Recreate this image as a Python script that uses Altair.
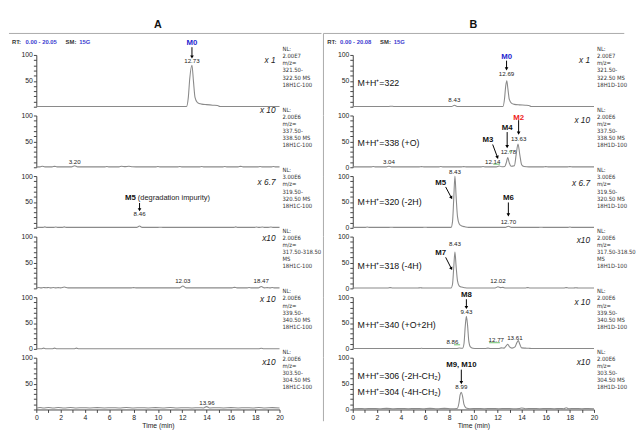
import math
import altair as alt
import pandas as pd

# ---------------- data ----------------
# traces: (time in min, relative abundance %)
A1_trace = [(0, 0.5), (3.0, 0.5), (8.0, 0.5), (12.35, 0.5), (12.5, 18), (12.62, 55), (12.8, 80), (12.92, 50),
            (13.05, 18), (13.25, 8), (13.6, 5), (14.0, 4), (14.5, 3), (14.9, 2.5), (15.1, 0.5), (20, 0.5)]
A2_trace = [(0, 0.8), (0.3, 0.8), (0.5, 2), (0.7, 0.8), (1.3, 0.8), (1.5, 1.8), (1.7, 0.8), (2.9, 0.8), (3.15, 3),
            (3.4, 0.8), (5.6, 0.8), (5.8, 1.5), (6.0, 0.8), (6.8, 0.8), (7.0, 2), (7.3, 1.2), (7.6, 2), (7.9, 1),
            (8.2, 0.8), (9.8, 0.8), (10.0, 1.5), (10.2, 0.8), (11.6, 0.8), (11.8, 1.5), (12.0, 0.8), (13.4, 0.8),
            (13.6, 1.5), (13.8, 0.8), (15.3, 0.8), (15.5, 1.5), (15.7, 0.8), (16.6, 0.8), (16.8, 1.8), (17.0, 0.8),
            (18.2, 0.8), (18.4, 1.5), (18.6, 0.8), (19.3, 0.8), (19.5, 1.5), (19.7, 0.8), (20, 0.8)]
A3_trace = [(0, 0.8), (0.5, 0.8), (0.7, 1.8), (0.9, 0.8), (1.4, 0.8), (1.6, 1.5), (1.8, 0.8), (2.1, 0.8), (2.3, 1.8),
            (2.5, 0.8), (8.25, 0.8), (8.49, 3.5), (8.7, 0.8), (10.0, 0.8), (10.2, 1.2), (10.4, 0.8), (16.2, 0.8),
            (16.4, 1.8), (16.6, 0.8), (17.9, 0.8), (18.1, 1.5), (18.3, 0.8), (18.6, 1.5), (18.8, 0.8), (19.0, 0.8),
            (19.3, 1.5), (19.5, 0.8), (20, 0.8)]
A4_trace = [(0, 1), (0.2, 1.8), (0.4, 1.0), (0.6, 1.8), (0.8, 1.2), (1.0, 1.8), (1.2, 1.0), (1.4, 1.6), (1.6, 1.0),
            (1.8, 1.5), (2.0, 1.0), (2.3, 2.5), (2.6, 1.0), (7.8, 1.0), (8.0, 1.5), (8.2, 1.0), (11.8, 1.0),
            (12.05, 4.5), (12.3, 1.0), (16.1, 1.0), (16.3, 2), (16.5, 1.0), (17.3, 1.0), (17.5, 1.8), (17.7, 1.0),
            (18.25, 1.0), (18.5, 3.5), (18.75, 1.0), (19.0, 1.5), (19.2, 1.0), (19.4, 1.8), (19.6, 1.0), (20, 1.0)]
A5_trace = [(0, 0.5), (0.4, 0.5), (0.6, 1.5), (0.8, 0.5), (1.3, 0.5), (1.5, 1.5), (1.7, 0.5), (3.1, 0.5), (3.3, 1.5),
            (3.5, 0.5), (18.3, 0.5), (18.5, 1.2), (18.7, 0.5), (20, 0.5)]
A6_trace = [(0, 3), (0.3, 4), (0.6, 3), (1.0, 4), (1.4, 3), (1.8, 3.8), (2.3, 3), (2.8, 3.8), (3.3, 3), (3.8, 3.5),
            (4.4, 3), (5.0, 3.6), (5.6, 3), (6.2, 3.5), (6.8, 3), (7.4, 3.8), (8.0, 3), (8.6, 3.5), (9.2, 3),
            (9.8, 3.6), (10.4, 3), (11.0, 3.8), (11.6, 3), (12.2, 3.5), (12.8, 3), (13.4, 3.5), (13.75, 3),
            (14.0, 5.5), (14.25, 3), (14.8, 3.5), (15.4, 3), (16.0, 3.6), (16.6, 3), (17.2, 3.5), (17.8, 3),
            (18.3, 4), (18.8, 3), (19.4, 3.6), (20, 3)]

B1_trace = [(0, 0.5), (3.0, 0.5), (3.2, 1), (3.4, 0.5), (8.2, 0.5), (8.42, 3), (8.65, 0.5), (12.45, 0.5),
            (12.58, 15), (12.68, 40), (12.77, 50), (12.86, 35), (12.98, 14), (13.15, 7), (13.4, 4.5), (13.8, 3.5),
            (14.3, 3), (14.6, 2.5), (14.8, 0.5), (20, 0.5)]
B2_trace = [(0, 0.8), (1.5, 0.8), (1.7, 1.5), (1.9, 0.8), (2.8, 0.8), (3.0, 2), (3.2, 0.8), (5.5, 0.8), (5.7, 1.2),
            (5.9, 0.8), (7.1, 0.8), (7.3, 1.5), (7.5, 0.8), (9.0, 0.8), (9.2, 1.2), (9.4, 0.8), (10.6, 0.8),
            (10.8, 1.5), (11.0, 0.8), (11.9, 0.8), (12.14, 2.5), (12.35, 1), (12.6, 1.5), (12.73, 9), (12.85, 19),
            (12.97, 9), (13.12, 2), (13.4, 3), (13.55, 25), (13.7, 45), (13.85, 24), (14.0, 5), (14.2, 1.5),
            (14.6, 0.8), (15.8, 0.8), (16.0, 1.2), (16.2, 0.8), (17.8, 0.8), (18.0, 1.2), (18.2, 0.8), (20, 0.8)]
B3_trace = [(0, 0.8), (1.0, 0.8), (1.2, 1.5), (1.4, 0.8), (3.0, 0.8), (3.2, 1.2), (3.4, 0.8), (5.8, 0.8), (6.0, 1.2),
            (6.2, 0.8), (8.15, 0.8), (8.27, 12), (8.37, 55), (8.47, 100), (8.57, 60), (8.68, 22), (8.82, 8),
            (9.0, 4), (9.3, 2), (9.6, 0.8), (12.65, 0.8), (12.9, 3), (13.15, 0.8), (15.4, 0.8), (15.6, 1.2),
            (15.8, 0.8), (17.8, 0.8), (18.0, 1.5), (18.2, 0.8), (20, 0.8)]
B4_trace = [(0, 0.8), (2.9, 0.8), (3.1, 1.5), (3.3, 0.8), (5.4, 0.8), (5.6, 1.2), (5.8, 0.8), (8.15, 0.8), (8.27, 8),
            (8.37, 40), (8.47, 70), (8.57, 42), (8.68, 15), (8.82, 5), (9.0, 2.5), (9.3, 1.2), (9.6, 0.8),
            (11.8, 0.8), (12.04, 3), (12.25, 1.5), (12.45, 2), (12.65, 0.8), (14.3, 0.8), (14.5, 1.5), (14.7, 0.8),
            (17.5, 0.8), (17.7, 1.5), (17.9, 0.8), (18.3, 0.8), (18.5, 1.2), (18.7, 0.8), (20, 0.8)]
B5_trace = [(0, 0.8), (5.5, 0.8), (5.7, 1.2), (5.9, 0.8), (8.6, 0.8), (8.86, 1.8), (9.1, 1.2), (9.22, 10),
            (9.33, 45), (9.42, 63), (9.52, 45), (9.62, 15), (9.75, 4), (9.95, 1.5), (10.3, 0.8), (11.0, 0.8),
            (11.2, 1.5), (11.4, 0.8), (12.1, 0.8), (12.3, 2), (12.55, 1.5), (12.72, 6), (12.85, 9), (13.0, 4),
            (13.2, 1.5), (13.45, 4), (13.6, 12), (13.72, 16), (13.85, 9), (14.0, 2), (14.3, 1.5), (14.6, 1.2),
            (14.8, 0.8), (20, 0.8)]
B6_trace = [(0, 1.5), (0.5, 2), (1.0, 1.5), (1.6, 2), (2.2, 1.5), (2.8, 2.2), (3.4, 1.5), (4.0, 2), (4.6, 1.5),
            (5.2, 2), (5.8, 1.5), (6.4, 2.2), (7.0, 1.5), (7.6, 2.2), (8.2, 1.5), (8.65, 2), (8.8, 12), (8.9, 28),
            (9.0, 33), (9.1, 26), (9.22, 10), (9.4, 3), (9.7, 1.5), (10.3, 2), (10.9, 1.5), (11.5, 2), (12.1, 1.5),
            (12.7, 2), (13.3, 1.5), (13.8, 2), (14.0, 3), (14.3, 1.5), (14.9, 2), (15.5, 1.5), (16.1, 2),
            (16.7, 1.5), (17.2, 1.8), (17.5, 1.5), (17.7, 3.5), (17.9, 1.5), (18.4, 2), (19.0, 1.5), (19.5, 2),
            (20, 1.5)]

# peak retention-time labels: (t, y, text)
A_nums = [[(12.8, 89, "12.73")], [(3.15, 11, "3.20")], [(8.49, 26, "8.46")],
          [(12.05, 15, "12.03"), (18.5, 15, "18.47")], [], [(14.03, 13, "13.96")]]
B_nums = [[(8.42, 13, "8.43"), (12.75, 64, "12.69")],
          [(3.0, 11, "3.04"), (11.6, 11, "12.14"), (12.9, 29, "12.78"), (13.75, 55, "13.63")],
          [(8.47, 108, "8.43"), (12.9, 11, "12.70")],
          [(8.47, 85, "8.43"), (12.04, 15, "12.02")],
          [(9.42, 72, "9.43"), (8.26, 13, "8.86"), (11.9, 17, "12.77"), (13.44, 21, "13.61")],
          [(9.0, 43, "8.99")]]
# metabolite labels: (t, y, text, colour, align)
A_mets = [[(12.8, 123, "M0", "#1f1fd0", "center")], [], [(7.3, 57, "M5", "#111111", "left")], [], [], []]
B_mets = [[(12.75, 96, "M0", "#1f1fd0", "center")],
          [(11.2, 53, "M3", "#111111", "center"), (12.8, 75, "M4", "#111111", "center"),
           (13.75, 96, "M2", "#ee2222", "center")],
          [(7.29, 87, "M5", "#111111", "center"), (12.9, 57, "M6", "#111111", "center")],
          [(7.29, 68, "M7", "#111111", "center")],
          [(9.42, 104, "M8", "#111111", "center")],
          [(9.0, 85, "M9, M10", "#111111", "center")]]
# arrows: (t start, y start, t end, y end)
A_arrows = [[(12.8, 115, 12.8, 96)], [], [(8.49, 48, 8.49, 35)], [], [], []]
B_arrows = [[(12.75, 89, 12.75, 73)],
            [(11.6, 44, 12.0, 19), (12.8, 68, 12.8, 40), (13.75, 91, 13.75, 66)],
            [(7.7, 79, 8.18, 58), (12.9, 49, 12.9, 25)],
            [(7.7, 60, 8.18, 38)],
            [(9.42, 96, 9.42, 80)],
            [(9.0, 77, 9.0, 52)]]
# green integration marks: (t1, t2, y)
B_greens = [[], [(11.65, 12.2, 6), (12.95, 13.2, 30)], [], [], [(8.4, 8.9, 8), (11.3, 12.2, 12)], []]
# ion labels
B_ions = [[(0.4, 45, "M+H⁺=322")], [(0.4, 47, "M+H⁺=338 (+O)")], [(0.4, 50, "M+H⁺=320 (-2H)")],
          [(0.4, 43, "M+H⁺=318 (-4H)")], [(0.4, 47, "M+H⁺=340 (+O+2H)")],
          [(0.4, 64, "M+H⁺=306 (-2H-CH₂)"), (0.4, 34, "M+H⁺=304 (-4H-CH₂)")]]
A_mult = ["x 1", "x 10", "x 6.7", "x10", "x 10", "x10"]
B_mult = ["x 1", "x 10", "x 6.7", "x10", "x 10", "x10"]
A_mult_dy = [5, -6, 6, 2, 2, 4]
B_mult_dy = [5, 5, 7, 4, 5, 4]
MZ = [["321.50-", "322.50 MS"], ["337.50-", "338.50 MS"], ["319.50-", "320.50 MS"],
      ["317.50-318.50", "\u00a0MS"], ["339.50-", "340.50 MS"], ["303.50-", "304.50 MS"]]
NLV = ["2.00E7", "2.00E6", "3.00E6", "2.00E6", "2.00E6", "2.00E6"]
A_zero = [False, False, False, False, True, False]
B_zero = [False, True, True, True, True, True]

# ---------------- styling ----------------
FONT = "Liberation Sans, Arial, sans-serif"
NARROW = "'Liberation Sans Narrow', 'Arial Narrow', 'DejaVu Sans Condensed', 'Liberation Sans', sans-serif"
H = 53
PXV = H / 100
WA, WB = 249, 247
XS = alt.Scale(domain=[0, 20], nice=False, zero=False)
YS = alt.Scale(domain=[0, 100], nice=False, zero=False)
ONE = pd.DataFrame({"d": [0]})


def panel(k, col):
    W = WA if col == "A" else WB
    pxm = W / 20
    trace = (A1_trace, A2_trace, A3_trace, A4_trace, A5_trace, A6_trace)[k] if col == "A" else \
        (B1_trace, B2_trace, B3_trace, B4_trace, B5_trace, B6_trace)[k]
    zero = (A_zero if col == "A" else B_zero)[k]
    bottom = k == 5
    if zero:
        lexpr = "datum.value == 0 || datum.value == 50 || datum.value == 100 ? datum.label : ''"
    else:
        lexpr = "datum.value == 50 || datum.value == 100 ? datum.label : ''"
    yax = alt.Axis(values=list(range(0, 101, 10)), labelExpr=lexpr, title=None, grid=False,
                   tickSize=3, labelPadding=1, labelOverlap=False, labelFlush=False)
    if bottom:
        xax = alt.Axis(values=[j * 0.5 for j in range(41)], format="d",
                       labelExpr="datum.value % 2 == 0 ? datum.label : ''", title="Time (min)",
                       grid=False, tickSize=3, labelPadding=1, labelOverlap=False,
                       labelFlush=False, titlePadding=1)
    else:
        xax = None

    def X(f):
        return alt.X(f, type="quantitative", scale=XS, axis=xax)

    def Y(f):
        return alt.Y(f, type="quantitative", scale=YS, axis=yax)

    df = pd.DataFrame(trace, columns=["t", "i"])
    layers = [alt.Chart(df).mark_line(color="#8a8a8a", strokeWidth=1.1, interpolate="monotone").encode(
        x=X("t"), y=Y("i"))]

    nums = (A_nums if col == "A" else B_nums)[k]
    for (t, v, s) in nums:
        layers.append(alt.Chart(pd.DataFrame({"t": [t], "v": [v], "s": [s]})).mark_text(
            fontSize=6.3, font=FONT, color="#222222", baseline="middle").encode(x=X("t"), y=Y("v"), text="s:N"))
    mets = (A_mets if col == "A" else B_mets)[k]
    for (t, v, s, c, al) in mets:
        layers.append(alt.Chart(pd.DataFrame({"t": [t], "v": [v], "s": [s]})).mark_text(
            fontSize=8, font=FONT, fontWeight="bold", color=c, align=al, baseline="middle").encode(
            x=X("t"), y=Y("v"), text="s:N"))
    if col == "A" and k == 2:
        layers.append(alt.Chart(pd.DataFrame({"t": [8.35], "v": [57], "s": ["(degradation impurity)"]})).mark_text(
            fontSize=7.6, font=FONT, color="#222222", align="left", baseline="middle").encode(
            x=X("t"), y=Y("v"), text="s:N"))
    arrows = (A_arrows if col == "A" else B_arrows)[k]
    for (t1, v1, t2, v2) in arrows:
        d = pd.DataFrame({"t1": [t1], "v1": [v1], "t2": [t2], "v2": [v2]})
        ang = math.degrees(math.atan2((t2 - t1) * pxm, (v1 - v2) * PXV))
        angle = (360 - ang) % 360
        layers.append(alt.Chart(d).mark_rule(color="black", strokeWidth=1).encode(
            x=X("t1"), x2="t2:Q", y=Y("v1"), y2="v2:Q"))
        layers.append(alt.Chart(d).mark_point(shape="triangle-down", filled=True, size=14, color="black",
                                              opacity=1, angle=angle).encode(x=X("t2"), y=Y("v2")))
    if col == "B":
        for (t1, t2, v) in B_greens[k]:
            d = pd.DataFrame({"t1": [t1], "t2": [t2], "v": [v]})
            layers.append(alt.Chart(d).mark_rule(color="#6cc06c", strokeWidth=1).encode(
                x=X("t1"), x2="t2:Q", y=Y("v")))
        for (t, v, s) in B_ions[k]:
            layers.append(alt.Chart(pd.DataFrame({"t": [t], "v": [v], "s": [s]})).mark_text(
                fontSize=9, font=FONT, color="#111111", align="left", baseline="middle").encode(
                x=X("t"), y=Y("v"), text="s:N"))
    # magnification
    mult = (A_mult if col == "A" else B_mult)[k]
    mdy = (A_mult_dy if col == "A" else B_mult_dy)[k]
    layers.append(alt.Chart(ONE).mark_text(fontSize=8.5, font=FONT, fontStyle="italic", color="#222222",
                                           align="right", baseline="middle").encode(
        x=alt.value(W - 4), y=alt.value(mdy), text=alt.value(mult)))
    # NL block
    lines = ["NL:", NLV[k], "m/z="] + MZ[k] + ["18H1C-100" if col == "A" else "18H1D-100"]
    layers.append(alt.Chart(ONE).mark_text(fontSize=6, font=NARROW, color="#333333", align="left",
                                           baseline="top", lineHeight=7.3).encode(
        x=alt.value(W + 3), y=alt.value(-9), text=alt.value(lines)))
    # frame lines & header
    if k == 0:
        if col == "A":
            layers.append(alt.Chart(ONE).mark_rule(color="#aaaaaa", strokeWidth=1).encode(
                x=alt.value(-28), x2=alt.value(W + 43), y=alt.value(-22)))
            rt = [(-25, "RT:", "#333333"), (-11, "0.00 - 20.05", "#3a3ad0"), (30, "SM:", "#333333"),
                  (44, "15G", "#3a3ad0")]
        else:
            layers.append(alt.Chart(ONE).mark_rule(color="#aaaaaa", strokeWidth=1).encode(
                x=alt.value(-30), x2=alt.value(W + 31), y=alt.value(-22)))
            rt = [(-26, "RT:", "#333333"), (-13, "0.00 - 20.08", "#3a3ad0"), (28, "SM:", "#333333"),
                  (42, "15G", "#3a3ad0")]
        for (px, s, c) in rt:
            layers.append(alt.Chart(ONE).mark_text(fontSize=6, font=FONT, fontWeight="bold", color=c,
                                                   align="left", baseline="middle").encode(
                x=alt.value(px), y=alt.value(-13), text=alt.value(s)))
        layers.append(alt.Chart(ONE).mark_text(fontSize=11, font=FONT, fontWeight="bold", color="#111111",
                                               baseline="middle").encode(
            x=alt.value(W / 2), y=alt.value(-31), text=alt.value(col)))
    if col == "B":
        top = -22 if k == 0 else 0
        bot = H + 12 if k == 5 else H + 9
        layers.append(alt.Chart(ONE).mark_rule(color="#aaaaaa", strokeWidth=1).encode(
            x=alt.value(-30), y=alt.value(top), y2=alt.value(bot)))
    return alt.layer(*layers).properties(width=W, height=H)


colA = alt.vconcat(*[panel(k, "A") for k in range(6)], spacing=9, bounds="flush")
colB = alt.vconcat(*[panel(k, "B") for k in range(6)], spacing=9, bounds="flush")

chart = alt.hconcat(colA, colB, spacing=0).properties(
    padding={"left": 0, "top": 6, "right": 0, "bottom": 0}
).configure_view(stroke=None).configure_axis(
    domainColor="#444444", tickColor="#444444", labelColor="#222222", labelFont=FONT, labelFontSize=7,
    titleFont=FONT, titleFontSize=7, titleFontWeight="normal", titleColor="#222222", domainWidth=1
)

chart.save("out.html", embed_options={"renderer": "svg", "actions": False})
